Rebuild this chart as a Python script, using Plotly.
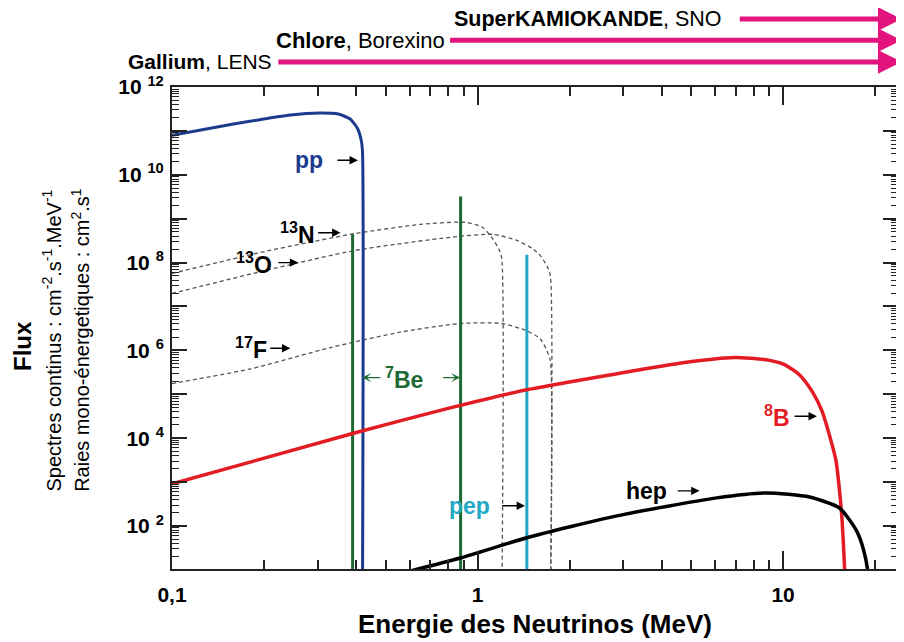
import numpy as np
import plotly.graph_objects as go

# ---------------- data (MeV, flux) ----------------
pp_E = [0.1, 0.159, 0.244, 0.305, 0.350, 0.383, 0.404, 0.416, 0.42, 0.42]
pp_F = [8.0e10, 1.43e11, 2.3e11, 2.55e11, 2.42e11, 1.86e11, 1.16e11, 6.2e10, 3.6e10, 1.0]

n13_E = [0.1, 0.202, 0.398, 0.649, 0.910, 1.04, 1.124, 1.175, 1.2, 1.2]
n13_F = [5.66e7, 1.8e8, 4.6e8, 7.4e8, 8.3e8, 6.3e8, 3.4e8, 2.0e8, 1.25e8, 1.0]

o15_E = [0.1, 0.202, 0.398, 0.813, 1.124, 1.346, 1.51, 1.61, 1.69, 1.73, 1.73]
o15_F = [1.98e7, 6.6e7, 1.9e8, 3.76e8, 4.4e8, 3.2e8, 2.1e8, 1.4e8, 8.2e7, 5.2e7, 1.0]

f17_E = [0.1, 0.181, 0.330, 0.558, 0.877, 1.2, 1.45, 1.60, 1.675, 1.73, 1.73]
f17_F = [1.75e5, 3.8e5, 1.16e6, 2.6e6, 4.1e6, 4.1e6, 2.8e6, 1.86e6, 1.1e6, 5.9e5, 1.0]

b8_E = [0.1, 0.398, 0.813, 1.45, 2.86, 4.70, 6.94, 8.70, 10.1, 11.3, 12.4, 13.4, 14.2, 14.9, 15.3, 15.6, 15.9, 16.0]
b8_F = [910, 1.33e4, 4.9e4, 1.27e5, 2.95e5, 5.25e5, 6.9e5, 6.17e5, 4.74e5, 2.8e5, 1.21e5, 4.2e4,
        1.13e4, 3.05e3, 630, 130, 10, 1.0]

hep_E = [0.517, 0.877, 1.45, 2.86, 6.06, 8.83, 12.2, 15.3, 17.4, 18.3, 18.9, 18.95]
hep_F = [7.2, 18.6, 54, 170, 437, 566, 457, 257, 77, 30, 10, 5.6]

be7_E = [0.39, 0.88]
be7_F = [4.4e8, 3.2e9]
pep_E = [1.45]
pep_F = [1.5e8]

x_tickvals = [0.1, 1, 10]
x_ticktext = ["0,1", "1", "10"]
y_decades = list(range(1, 13))

FONT = "Liberation Sans, Arial, Helvetica, sans-serif"

C_PP = "#1c3b8e"
C_GREEN = "#1e6a33"
C_CYAN = "#22a8c4"
C_RED = "#e31b23"
C_MAG = "#e4147f"
C_DASH = "#555555"


def vlines(E, F):
    xs, ys = [], []
    for e, f in zip(E, F):
        xs += [e, e, None]
        ys += [1.0, f, None]
    return xs, ys


fig = go.Figure()

dash_style = dict(color=C_DASH, width=1.3, dash="4px,3px", shape="spline", smoothing=0.6)
fig.add_trace(go.Scatter(x=n13_E, y=n13_F, mode="lines", line=dash_style))
fig.add_trace(go.Scatter(x=o15_E, y=o15_F, mode="lines", line=dash_style))
fig.add_trace(go.Scatter(x=f17_E, y=f17_F, mode="lines", line=dash_style))

bx, by = vlines(be7_E, be7_F)
fig.add_trace(go.Scatter(x=bx, y=by, mode="lines", line=dict(color=C_GREEN, width=3)))
px_, py_ = vlines(pep_E, pep_F)
fig.add_trace(go.Scatter(x=px_, y=py_, mode="lines", line=dict(color=C_CYAN, width=3)))

fig.add_trace(go.Scatter(x=pp_E, y=pp_F, mode="lines",
                         line=dict(color=C_PP, width=3, shape="spline", smoothing=0.6)))
fig.add_trace(go.Scatter(x=b8_E, y=b8_F, mode="lines",
                         line=dict(color=C_RED, width=3.5, shape="spline", smoothing=0.6)))
fig.add_trace(go.Scatter(x=hep_E, y=hep_F, mode="lines",
                         line=dict(color="black", width=3.5, shape="spline", smoothing=0.6)))

L = np.log10
LBL = 23

# in-plot labels: text right edge at E_edge, arrow starts gap px later and ends at E_head
# (text, color, E_edge, E_head, log10 F, gap px)
labels = [
    ("<b>pp</b>", C_PP, 0.313, 0.406, 10.33, 14),
    ("<b><sup>13</sup>N</b>", "black", 0.294, 0.356, 8.68, 3),
    ("<b><sup>13</sup>O</b>", "black", 0.213, 0.259, 8.00, 6),
    ("<b><sup>17</sup>F</b>", "black", 0.205, 0.244, 6.05, 3),
    ("<b>pep</b>", C_CYAN, 1.10, 1.43, 2.46, 12),
    ("<b>hep</b>", "black", 4.16, 5.33, 2.80, 11),
    ("<b><sup>8</sup>B</b>", C_RED, 10.5, 12.9, 4.50, 5),
]
for txt, col, et, eh, lf, gap in labels:
    fig.add_annotation(x=L(eh), y=lf, ax=L(et), ay=lf, xref="x", yref="y", axref="x", ayref="y",
                       text=txt, xanchor="right", yanchor="middle", borderpad=0, borderwidth=0,
                       font=dict(family=FONT, size=LBL, color=col), startstandoff=gap,
                       showarrow=True, arrowhead=2, arrowsize=1.2, arrowwidth=1.4, arrowcolor="black")

# 7Be label with double arrows
fig.add_annotation(x=L(0.419), y=5.38, ax=L(0.499), ay=5.38, xref="x", yref="y", axref="x", ayref="y",
                   text="<b><sup>7</sup>Be</b>", xanchor="left", yanchor="middle", borderpad=0, borderwidth=0,
                   font=dict(family=FONT, size=LBL, color=C_GREEN), startstandoff=5,
                   showarrow=True, arrowhead=3, arrowsize=1.2, arrowwidth=1.3, arrowcolor=C_GREEN)
fig.add_annotation(x=L(0.877), y=5.38, ax=L(0.755), ay=5.38, xref="x", yref="y", axref="x", ayref="y",
                   text=" ", showarrow=True, arrowhead=3, arrowsize=1.2, arrowwidth=1.3, arrowcolor=C_GREEN)

# detector thresholds above the plot (text right edge at E_edge, arrow starts after a gap)
det = [
    ("<b>Gallium</b>, LENS", 0.213, 1.052, 21, 6),
    ("<b>Chlore</b>, Borexino", 0.783, 1.097, 22, 5),
    ("<b>SuperKAMIOKANDE</b>, SNO", 6.30, 1.141, 21.5, 18),
]
for txt, e0, yp, fs, gap in det:
    fig.add_annotation(x=1.388, y=yp, ax=L(e0), ay=0, xref="x", yref="paper", axref="x", ayref="pixel",
                       text=txt, xanchor="right", yanchor="middle", borderpad=0, borderwidth=0,
                       font=dict(family=FONT, size=fs, color="black"), startstandoff=gap,
                       showarrow=True, arrowhead=2, arrowsize=0.95, arrowwidth=5, arrowcolor=C_MAG)

# axis titles
fig.add_annotation(x=0.50, y=-0.114, xref="paper", yref="paper", text="<b>Energie des Neutrinos (MeV)</b>",
                   showarrow=False, font=dict(family=FONT, size=26, color="black"),
                   xanchor="center", yanchor="middle")
fig.add_annotation(x=-0.205, y=0.463, xref="paper", yref="paper", text="<b>Flux</b>", textangle=-90,
                   showarrow=False, font=dict(family=FONT, size=24, color="black"),
                   xanchor="center", yanchor="middle")
fig.add_annotation(x=-0.166, y=0.475, xref="paper", yref="paper",
                   text="Spectres continus : cm<sup>-2</sup>.s<sup>-1</sup>.MeV<sup>-1</sup>", textangle=-90,
                   showarrow=False, font=dict(family=FONT, size=20, color="black"),
                   xanchor="center", yanchor="middle")
fig.add_annotation(x=-0.127, y=0.475, xref="paper", yref="paper",
                   text="Raies mono-énergetiques : cm<sup>2</sup>.s<sup>1</sup>", textangle=-90,
                   showarrow=False, font=dict(family=FONT, size=20, color="black"),
                   xanchor="center", yanchor="middle")

y_tickvals = [10**d for d in y_decades]
y_ticktext = [("10 <sup>%d</sup>" % d) if d % 2 == 0 else "" for d in y_decades]

# the page body adds an 8px offset, so the figure is 8px smaller and margins shifted
fig.update_layout(
    width=896, height=634,
    margin=dict(l=164, r=6, t=79, b=73, autoexpand=False),
    paper_bgcolor="white", plot_bgcolor="white",
    showlegend=False,
    font=dict(family=FONT, color="black"),
    xaxis=dict(
        type="log", range=[-1, 1.376], showgrid=False, zeroline=False, automargin=False,
        showline=True, linecolor="#222", linewidth=2, mirror="ticks",
        ticks="inside", ticklen=18, tickwidth=1.5, tickcolor="#222",
        tickmode="array", tickvals=x_tickvals, ticktext=x_ticktext,
        tickfont=dict(family=FONT, size=21, color="black", weight="bold"),
        ticklabelstandoff=6,
        minor=dict(ticks="inside", ticklen=9, tickwidth=1.5, tickcolor="#222", dtick="D1", showgrid=False),
    ),
    yaxis=dict(
        type="log", range=[1.02, 12], showgrid=False, zeroline=False, automargin=False,
        showline=True, linecolor="#222", linewidth=2, mirror="ticks",
        ticks="inside", ticklen=15, tickwidth=1.5, tickcolor="#222",
        tickmode="array", tickvals=y_tickvals, ticktext=y_ticktext,
        tickfont=dict(family=FONT, size=21, color="black", weight="bold"),
        ticklabelstandoff=2,
        minor=dict(ticks="inside", ticklen=7, tickwidth=1.2, tickcolor="#222", dtick="D1", showgrid=False),
    ),
)

fig.write_html("out.html")
